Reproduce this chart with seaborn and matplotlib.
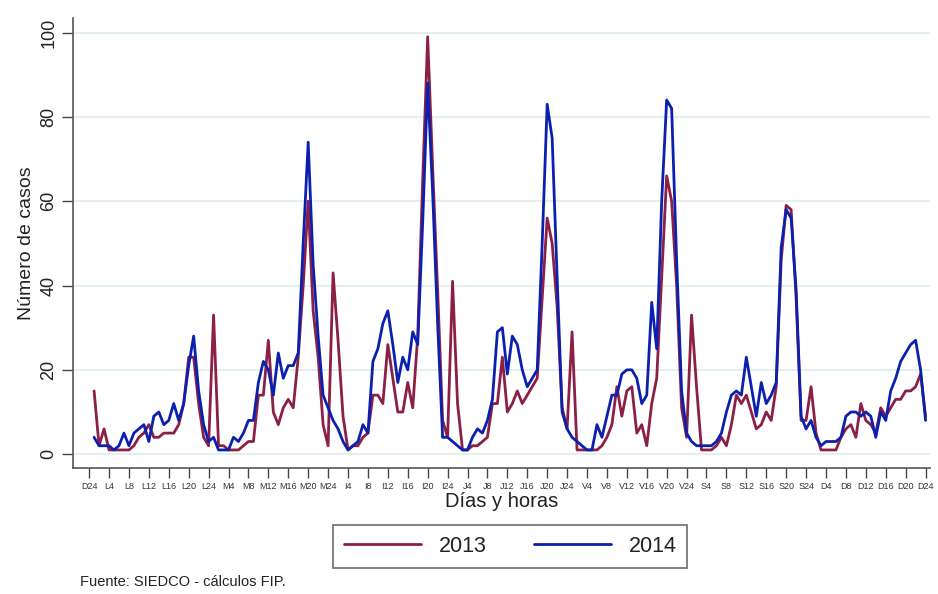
import matplotlib
matplotlib.use("Agg")
import pandas as pd
import matplotlib.pyplot as plt
from matplotlib.lines import Line2D
import seaborn as sns

# Hourly cases across the week (hour 1 = Monday 1am ... hour 168 = Sunday 24h)
horas = list(range(1, 169))

casos_2013 = [
    15, 2, 6, 1, 1, 1, 1, 1, 2, 4, 5, 7, 4, 4, 5, 5, 5, 7, 12, 23, 23, 12, 4, 2,
    33, 2, 2, 1, 1, 1, 2, 3, 3, 14, 14, 27, 10, 7, 11, 13, 11, 23, 40, 60, 34, 23, 7, 2,
    43, 27, 9, 1, 2, 2, 4, 5, 14, 14, 12, 26, 18, 10, 10, 17, 11, 28, 65, 99, 68, 39, 8, 4,
    41, 12, 1, 1, 2, 2, 3, 4, 12, 12, 23, 10, 12, 15, 12, 14, 16, 18, 37, 56, 50, 35, 11, 6,
    29, 1, 1, 1, 1, 1, 2, 4, 7, 16, 9, 15, 16, 5, 7, 2, 12, 18, 42, 66, 60, 40, 11, 4,
    33, 16, 1, 1, 1, 2, 4, 2, 7, 14, 12, 14, 10, 6, 7, 10, 8, 16, 46, 59, 58, 37, 8, 8,
    16, 5, 1, 1, 1, 1, 4, 6, 7, 4, 12, 8, 7, 5, 11, 9, 11, 13, 13, 15, 15, 16, 19, 9,
]

casos_2014 = [
    4, 2, 2, 2, 1, 2, 5, 2, 5, 6, 7, 3, 9, 10, 7, 8, 12, 8, 12, 21, 28, 15, 7, 3,
    4, 1, 1, 1, 4, 3, 5, 8, 8, 17, 22, 20, 14, 24, 18, 21, 21, 24, 50, 74, 45, 28, 14, 11,
    8, 6, 3, 1, 2, 3, 7, 5, 22, 25, 31, 34, 26, 17, 23, 20, 29, 26, 55, 88, 62, 31, 4, 4,
    3, 2, 1, 1, 4, 6, 5, 8, 13, 29, 30, 19, 28, 26, 20, 16, 18, 20, 50, 83, 75, 42, 10, 6,
    4, 3, 2, 1, 1, 7, 4, 9, 14, 14, 19, 20, 20, 18, 12, 14, 36, 25, 60, 84, 82, 46, 15, 5,
    3, 2, 2, 2, 2, 3, 5, 10, 14, 15, 14, 23, 16, 9, 17, 12, 14, 17, 49, 58, 56, 39, 9, 6,
    8, 4, 2, 3, 3, 3, 4, 9, 10, 10, 9, 10, 9, 4, 10, 8, 15, 18, 22, 24, 26, 27, 20, 8,
]

tick_horas = list(range(0, 169, 4))
tick_labels = ['D24',
               'L4', 'L8', 'L12', 'L16', 'L20', 'L24',
               'M4', 'M8', 'M12', 'M16', 'M20', 'M24',
               'I4', 'I8', 'I12', 'I16', 'I20', 'I24',
               'J4', 'J8', 'J12', 'J16', 'J20', 'J24',
               'V4', 'V8', 'V12', 'V16', 'V20', 'V24',
               'S4', 'S8', 'S12', 'S16', 'S20', 'S24',
               'D4', 'D8', 'D12', 'D16', 'D20', 'D24']

colores = {'2013': '#8b1f46', '2014': '#0c20b0'}

df = pd.DataFrame({
    'hora': horas + horas,
    'casos': casos_2013 + casos_2014,
    'anio': ['2013'] * len(horas) + ['2014'] * len(horas),
})

sns.set_style('white')
plt.rcParams['font.family'] = ['Liberation Sans', 'DejaVu Sans']
plt.rcParams['text.color'] = '#222222'

fig = plt.figure(figsize=(9.38, 5.94), dpi=100)
ax = fig.add_axes([0.078, 0.212, 0.913, 0.758])

sns.lineplot(data=df, x='hora', y='casos', hue='anio', palette=colores,
             linewidth=2.0, ax=ax, legend=False)

ax.set_xlim(-3.2, 168.8)
ax.set_ylim(-3.3, 103.5)
ax.set_yticks([0, 20, 40, 60, 80, 100])
ax.set_xticks(tick_horas)
ax.set_xticklabels(tick_labels)

ax.yaxis.grid(True, color='#e6efef', linewidth=1.5)
ax.set_axisbelow(True)

for s in ['top', 'right']:
    ax.spines[s].set_visible(False)
for s in ['left', 'bottom']:
    ax.spines[s].set_color('#555555')
    ax.spines[s].set_linewidth(1.2)

ax.tick_params(axis='y', direction='out', length=8, width=1, color='#444444',
               labelsize=13, labelcolor='#222222', left=True)
for lab in ax.get_yticklabels():
    lab.set_rotation(90)
    lab.set_va('center')
ax.tick_params(axis='x', direction='out', length=7, width=1, color='#444444',
               labelsize=6.5, labelcolor='#333333', bottom=True, pad=3)

ax.set_xlabel('Días y horas', fontsize=14.5, labelpad=1, color='#222222')
ax.set_ylabel('Número de casos', fontsize=14, labelpad=4, color='#222222')

handles = [Line2D([], [], color=colores['2013'], linewidth=2.0),
           Line2D([], [], color=colores['2014'], linewidth=2.0)]
leg = fig.legend(handles, ['2013', '2014'], loc='center', bbox_to_anchor=(0.544, 0.080),
                 ncol=2, frameon=True, fancybox=False, edgecolor='#555555',
                 fontsize=15.5, handlelength=3.6, columnspacing=2.2,
                 handletextpad=0.8, borderpad=0.5)
leg.get_frame().set_linewidth(1.3)

fig.text(0.085, 0.02, 'Fuente: SIEDCO - cálculos FIP.', fontsize=10.5,
         va='center', ha='left', color='#222222')

fig.savefig('out.png', dpi=100)
